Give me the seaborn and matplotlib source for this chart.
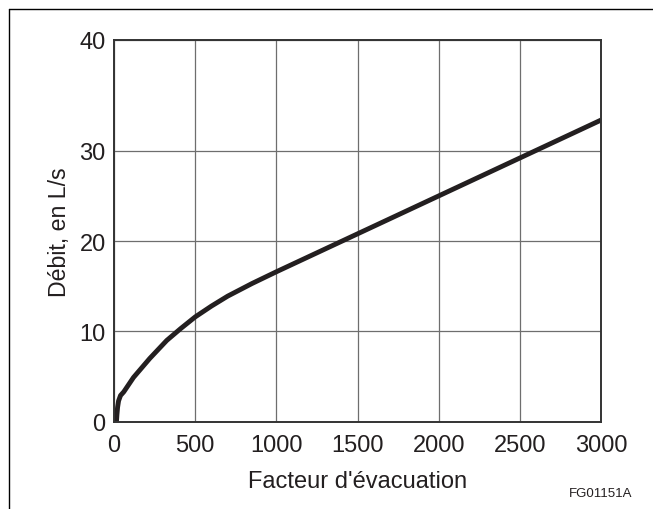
import matplotlib
matplotlib.use("Agg")
import matplotlib.pyplot as plt
from matplotlib.lines import Line2D
import seaborn as sns

# Curve
facteur = [15, 18, 22, 28, 40, 60, 120, 220, 325, 410, 500, 600, 700, 850, 1000, 1500, 2000, 2500, 3000]
debit = [0.0, 0.8, 1.6, 2.3, 2.9, 3.3, 4.9, 7.0, 9.0, 10.3, 11.6, 12.8, 13.9, 15.3, 16.6, 20.8, 25.0, 29.2, 33.4]

x_ticks = [0, 500, 1000, 1500, 2000, 2500, 3000]
# the top line of the original drawing sits a bit above a true 40
y_ticks = [0, 10, 20, 30, 42.3]
y_tick_labels = ["0", "10", "20", "30", "40"]

sns.set_theme(style="white")
plt.rcParams["font.family"] = ["Liberation Sans", "DejaVu Sans"]

fig = plt.figure(figsize=(6.53, 5.10), dpi=100)
ax = fig.add_axes([0.1746, 0.1712, 0.7458, 0.749])

sns.lineplot(x=facteur, y=debit, ax=ax, color="#231f20", linewidth=3.5,
             sort=False, estimator=None, solid_capstyle="butt")

ax.set_xlim(0, 3000)
ax.set_ylim(0, 42.3)
ax.set_xticks(x_ticks)
ax.set_xticklabels([str(t) for t in x_ticks])
ax.set_yticks(y_ticks)
ax.set_yticklabels(y_tick_labels)
ax.grid(True, color="#6e6e6e", linewidth=0.9)
ax.set_axisbelow(True)

for side in ax.spines.values():
    side.set_visible(True)
    side.set_color("#333333")
    side.set_linewidth(1.4)

ax.tick_params(axis="both", length=0, labelsize=17, colors="#231f20")
ax.tick_params(axis="x", pad=9)
ax.tick_params(axis="y", pad=6)

ax.set_xlabel("Facteur d'évacuation", fontsize=17, color="#231f20", labelpad=10)
ax.set_ylabel("Débit, en L/s", fontsize=16.7, color="#231f20", labelpad=6)

fig.text(0.968, 0.031, "FG01151A", fontsize=9.5, color="#231f20", ha="right", va="center")

# frame lines on top and left, as in the scanned figure
fig.add_artist(Line2D([0.0138, 1.0], [0.980, 0.980], color="black", linewidth=1.0))
fig.add_artist(Line2D([0.0138, 0.0138], [0.0, 0.980], color="black", linewidth=1.0))

fig.savefig("out.png", dpi=100)
